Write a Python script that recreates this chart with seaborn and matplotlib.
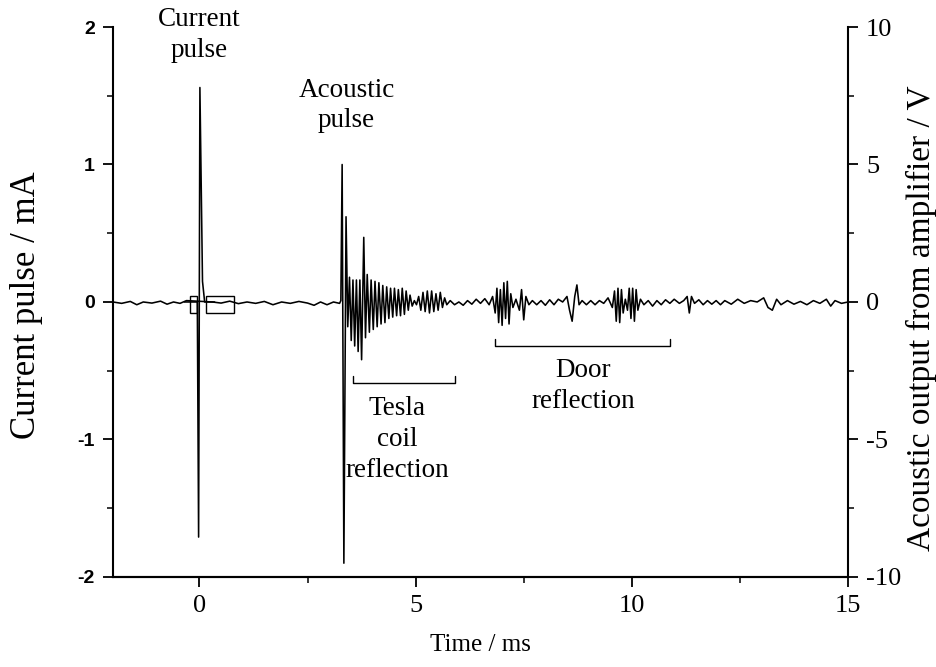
import numpy as np
import pandas as pd
import matplotlib
matplotlib.use("Agg")
import matplotlib.pyplot as plt
from matplotlib.patches import Rectangle
from matplotlib.ticker import MultipleLocator
import seaborn as sns

sns.set_theme(style="ticks")
plt.rcParams["font.family"] = ["Liberation Serif", "DejaVu Serif"]
plt.rcParams.update({"text.color": "black", "axes.labelcolor": "black",
                     "xtick.color": "black", "ytick.color": "black",
                     "axes.edgecolor": "black"})

# ── Data ─────────────────────────────────────────────────────────────────────
# acoustic output from amplifier (V) vs time (ms)
acoustic_t = [
    -2.0, -1.8, -1.6, -1.45, -1.3, -1.1, -0.9, -0.75, -0.6, -0.45, -0.3, 0.3,
    0.5, 0.7, 0.9, 1.1, 1.3, 1.5, 1.7, 1.9, 2.1, 2.3, 2.5, 2.65, 2.8, 2.95,
    3.1, 3.24,
    3.27, 3.30, 3.34, 3.39, 3.43, 3.47, 3.51, 3.55, 3.59, 3.63, 3.67, 3.71,
    3.75, 3.80, 3.84, 3.88, 3.93, 3.97, 4.02, 4.06, 4.11, 4.15, 4.20, 4.24,
    4.29, 4.33, 4.38, 4.42, 4.47, 4.51, 4.56, 4.60, 4.65, 4.69, 4.74, 4.78,
    4.83, 4.87, 4.92, 4.97, 5.02, 5.07, 5.12, 5.17, 5.22, 5.27, 5.32, 5.37,
    5.42, 5.47, 5.52, 5.57, 5.62, 5.67, 5.72, 5.8, 5.9, 6.0, 6.1, 6.2, 6.3,
    6.4, 6.5, 6.6, 6.7, 6.78, 6.84, 6.88, 6.92, 6.96, 7.00, 7.04, 7.08, 7.12,
    7.16, 7.20, 7.25, 7.32, 7.40, 7.45, 7.50, 7.55, 7.62, 7.70, 7.8, 7.9,
    8.0, 8.1, 8.2, 8.3, 8.4, 8.5, 8.56, 8.62, 8.68, 8.73, 8.78, 8.85, 8.95,
    9.05, 9.15, 9.25, 9.35, 9.45, 9.55, 9.60, 9.64, 9.68, 9.72, 9.76, 9.80,
    9.85, 9.90, 9.94, 9.98, 10.02, 10.06, 10.10, 10.14, 10.2, 10.28, 10.38,
    10.48, 10.58, 10.68, 10.78, 10.88, 10.98, 11.1, 11.2, 11.28, 11.33, 11.38,
    11.45, 11.55, 11.65, 11.75, 11.85, 11.95, 12.05, 12.15, 12.3, 12.45, 12.6,
    12.75, 12.9, 13.05, 13.15, 13.25, 13.35, 13.45, 13.6, 13.75, 13.9, 14.05,
    14.2, 14.35, 14.5, 14.6, 14.7, 14.85, 15.0,
]
acoustic_v = [
    0.0, -0.05, 0.02, -0.1, 0.0, -0.04, 0.03, -0.08, 0.0, -0.05, 0.05, 0.0,
    -0.04, 0.03, -0.06, 0.0, -0.05, 0.02, -0.1, 0.0, -0.05, 0.02, -0.04, -0.12,
    0.0, -0.1, 0.0, -0.05,
    0.05, 5.0, -9.5, 3.1, -0.9, 0.9, -1.4, 0.8, -1.6, 0.8, -1.8, 0.8,
    -2.1, 2.35, -1.3, 1.0, -1.1, 0.8, -1.0, 0.75, -0.9, 0.7, -0.8, 0.6,
    -0.75, 0.55, -0.6, 0.5, -0.55, 0.5, -0.5, 0.45, -0.5, 0.5, -0.45, 0.4,
    -0.3, 0.25, -0.15, 0.05, -0.1, 0.2, -0.3, 0.35, -0.35, 0.4, -0.4, 0.4,
    -0.35, 0.3, -0.3, 0.35, -0.2, 0.15, -0.1, 0.05, -0.1, 0.0, -0.12, 0.05, -0.08,
    0.1, -0.05, 0.12, -0.1, 0.2, -0.4, 0.5, -0.75, 0.45, -0.85, 0.7, -0.6, 0.75,
    -0.8, 0.3, -0.2, 0.1, -0.3, 0.45, -0.65, 0.2, -0.1, 0.05, -0.1, 0.05,
    -0.12, 0.08, -0.1, 0.1, 0.0, 0.2, -0.3, -0.7, 0.2, 0.62, -0.1, 0.05, -0.1,
    0.05, -0.1, 0.05, -0.05, 0.15, -0.2, 0.4, -0.7, 0.5, -0.75, 0.45, -0.4,
    0.1, -0.3, 0.5, -0.6, 0.5, -0.7, 0.45, -0.3, 0.1, -0.1, 0.05,
    -0.15, 0.05, -0.1, 0.08, -0.05, 0.1, -0.05, 0.05, 0.2, -0.4, 0.2,
    -0.05, 0.08, -0.1, 0.05, -0.08, 0.05, -0.1, 0.05, -0.08, 0.1, -0.05,
    0.05, 0.0, 0.15, -0.2, -0.3, 0.1, -0.1, 0.05, -0.08, 0.02, -0.1,
    0.05, -0.05, 0.1, -0.15, 0.05, -0.05, 0.0,
]

# current pulse (mA) vs time (ms)
current_t = [-0.35, -0.05, -0.02, 0.01, 0.07, 0.12, 0.35]
current_i = [0.0, 0.0, -1.71, 1.56, 0.15, 0.0, 0.0]

# small boxes drawn round the current pulse: (t0, t1, i0, i1)
box_left = (-0.23, -0.05, -0.08, 0.045)
box_right = (0.14, 0.79, -0.08, 0.045)

# reflection brackets: (t_start, t_end, level in mA)
tesla_bracket = (3.56, 5.91, -0.59)
door_bracket = (6.84, 10.88, -0.32)

acoustic = pd.DataFrame({"t": acoustic_t, "v": acoustic_v})
current = pd.DataFrame({"t": current_t, "i": current_i})

# ── Figure ───────────────────────────────────────────────────────────────────
fig = plt.figure(figsize=(9.37, 6.67), dpi=100)
ax = fig.add_axes([0.1206, 0.135, 0.7844, 0.8245])
ax2 = ax.twinx()

LW = 1.15
sns.lineplot(data=acoustic, x="t", y="v", ax=ax2, color="black", linewidth=LW,
             estimator=None, sort=False)
sns.lineplot(data=current, x="t", y="i", ax=ax, color="black", linewidth=LW,
             estimator=None, sort=False)

for t0, t1, i0, i1 in (box_left, box_right):
    ax.add_patch(Rectangle((t0, i0), t1 - t0, i1 - i0, fill=False,
                           edgecolor="black", linewidth=1.0))

for t0, t1, lev in (tesla_bracket, door_bracket):
    ax.plot([t0, t0, t1, t1], [lev + 0.05, lev, lev, lev + 0.05],
            color="black", linewidth=1.0)

# axes limits & ticks
ax.set_xlim(-2, 15)
ax.set_ylim(-2, 2)
ax2.set_ylim(-10, 10)
ax.xaxis.set_major_locator(MultipleLocator(5))
ax.xaxis.set_minor_locator(MultipleLocator(2.5))
ax.yaxis.set_major_locator(MultipleLocator(1))
ax.yaxis.set_minor_locator(MultipleLocator(0.5))
ax2.yaxis.set_major_locator(MultipleLocator(5))
ax2.yaxis.set_minor_locator(MultipleLocator(2.5))

for a in (ax, ax2):
    a.spines["top"].set_visible(False)
    for s in a.spines.values():
        s.set_linewidth(1.5)
        s.set_color("black")
    a.tick_params(which="major", direction="out", length=7, width=1.3,
                  labelsize=15, pad=6)
    a.tick_params(which="minor", direction="out", length=4, width=1.1)
    a.grid(False)
ax2.spines["left"].set_visible(False)
ax.spines["right"].set_visible(False)

ax.set_yticks([-2, -1, 0, 1, 2])
ax.set_yticklabels(["-2", "-1", "0", "1", "2"], family=["Liberation Sans"],
                   fontsize=14, fontweight="bold")
ax2.set_yticks([-10, -5, 0, 5, 10])
ax2.set_yticklabels(["-10", "-5", "0", "5", "10"], fontsize=19)
ax.set_xticks([0, 5, 10, 15])
ax.set_xticklabels(["0", "5", "10", "15"], fontsize=19)

ax.set_xlabel("Time / ms", fontsize=18, labelpad=12)
ax.set_ylabel("Current pulse / mA", fontsize=25, va="center")
ax.yaxis.set_label_coords(-0.118, 0.495)
ax2.set_ylabel("Acoustic output from amplifier / V", fontsize=24, va="center")
ax2.yaxis.set_label_coords(1.1, 0.47)

# annotations
ann = dict(fontsize=19.5, ha="center", va="center", linespacing=1.3)
ax.text(0.0, 1.94, "Current\npulse", clip_on=False, **ann)
ax.text(3.4, 1.43, "Acoustic\npulse", **ann)
ax.text(4.57, -1.0, "Tesla\ncoil\nreflection", **ann)
ax.text(8.87, -0.61, "Door\nreflection", **ann)

plt.savefig("out.png", dpi=100)
